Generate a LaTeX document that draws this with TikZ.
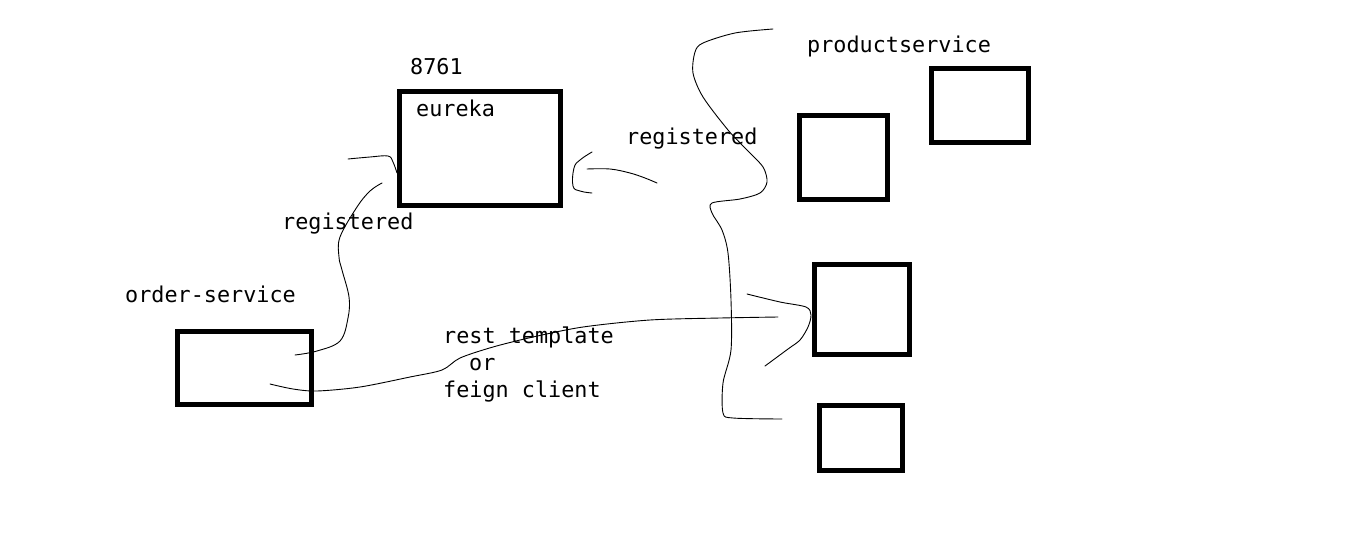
\documentclass[tikz,border=0pt]{standalone}
\usepackage{fontspec}
\newfontfamily\skmono{DejaVu Sans Mono}
\begin{document}
\begin{tikzpicture}[x=1pt,y=-1pt,
  svc/.style={draw=black,line width=5pt,rectangle,inner sep=0pt},
  lbl/.style={inner sep=0pt,anchor=base west,font=\skmono\fontsize{21.8}{24}\selectfont},
  pen/.style={draw=black,line width=0.9pt,line cap=round,line join=round}]
\useasboundingbox[fill=white] (0,0) rectangle (1349,544);
% boxes
\node[svc,minimum width=161pt,minimum height=114pt] (eureka) at (480,148.5) {};
\node[svc,minimum width=134pt,minimum height=73pt] (order) at (244.5,368) {};
\node[svc,minimum width=97pt,minimum height=74pt] (p1) at (979.5,105) {};
\node[svc,minimum width=88pt,minimum height=84pt] (p2) at (843.5,157.5) {};
\node[svc,minimum width=95pt,minimum height=90pt] (p3) at (862,309.5) {};
\node[svc,minimum width=83pt,minimum height=65pt] (p4) at (861,438) {};
% labels
\node[lbl] (port) at (410,74) {8761};
\node[lbl] (eurekalbl) at (416,116) {eureka};
\node[lbl] (regr) at (626,144) {registered};
\node[lbl] (regl) at (282,229) {registered};
\node[lbl] (orderlbl) at (125,302) {order-service};
\node[lbl] (prodlbl) at (807,52) {productservice};
\node[lbl] (rest) at (443,343) {rest template};
\node[lbl] (or) at (469,370) {or};
\node[lbl] (feign) at (443,397) {feign client};
% hand-drawn curves
\draw[pen] plot[smooth,tension=0.6] coordinates {(348,159) (370,157) (388,156) (393,162) (397,173)};
\draw[pen] plot[smooth,tension=0.6] coordinates {(295,355) (317,351) (340,341) (348,318) (349,297) (342,270) (339,257) (340,237) (357,207) (370,191) (382,183)};
\draw[pen] plot[smooth,tension=0.7] coordinates {(592,152) (580,160) (574,168) (573,186) (580,191) (592,193)};
\draw[pen] plot[smooth,tension=0.6] coordinates {(587,169) (610,169) (630,173) (645,178) (657,183)};
\draw[pen] plot[smooth,tension=0.5] coordinates {(773,29) (735,33) (703,43) (695,52) (693,73) (703,97) (728,130) (747,150) (763,167) (767,182) (760,193) (740,199) (712,203) (712,213) (722,230) (728,253) (731,300) (731,350) (723,383) (723,413) (733,418) (782,419)};
\draw[pen] plot[smooth,tension=0.5] coordinates {(270,384) (293,389) (317,391) (360,387) (410,377) (442,370) (460,358) (493,347) (533,337) (583,327) (650,320) (720,318) (778,317)};
\draw[pen] plot[smooth,tension=0.5] coordinates {(747,294) (780,302) (806,307) (811,315) (808,327) (800,340) (788,349) (765,366)};
\end{tikzpicture}
\end{document}
